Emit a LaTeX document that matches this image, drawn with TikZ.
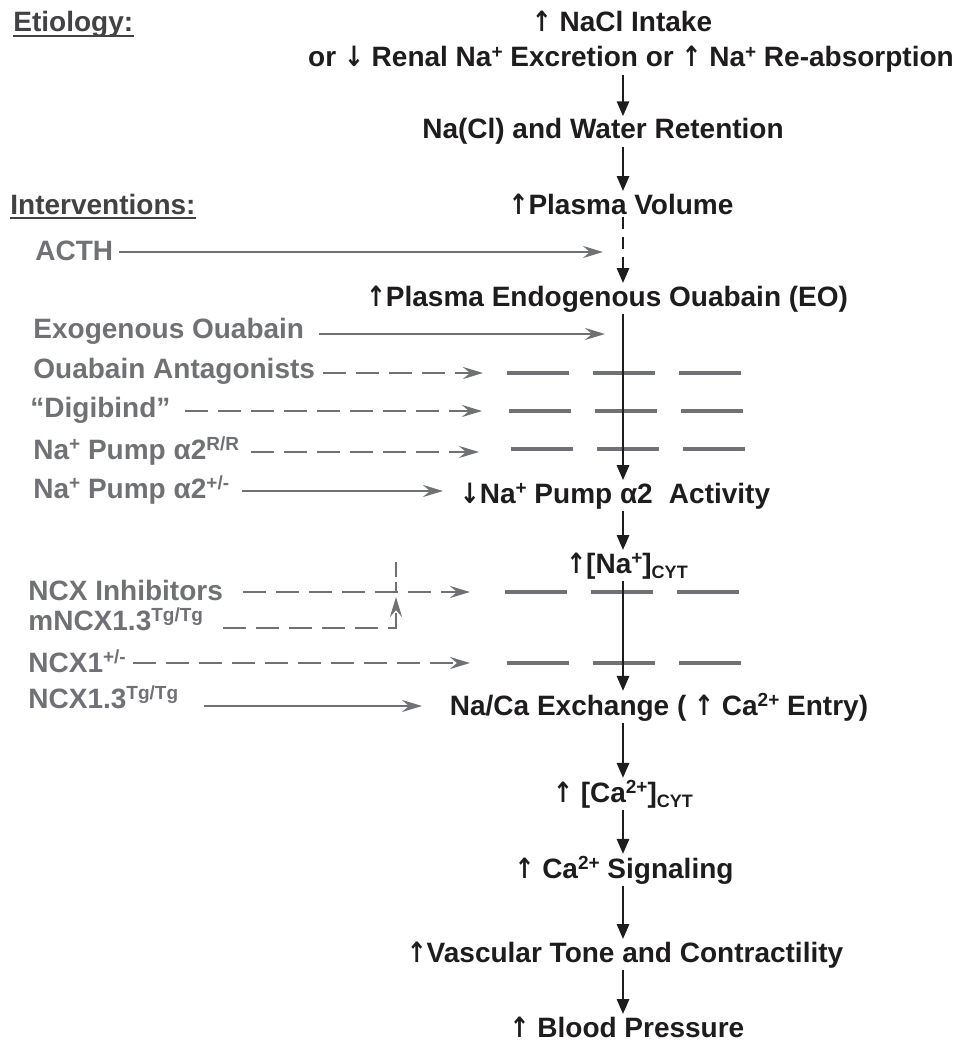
\documentclass[tikz,border=0pt]{standalone}
\usepackage{fontspec}
\setmainfont{Liberation Sans}
\newfontfamily\arrowfont{DejaVu Sans}
\usetikzlibrary{arrows.meta}
\definecolor{ivgray}{RGB}{112,113,117}
\definecolor{hdgray}{RGB}{66,66,69}
\definecolor{ink}{RGB}{30,28,29}
\newcommand{\upar}{\scalebox{0.85}[1]{\arrowfont\bfseries ↑}}
\newcommand{\dnar}{\scalebox{0.85}[1]{\arrowfont\bfseries ↓}}
\newcommand{\sups}[1]{\raisebox{0.3em}{\fontsize{9.5}{9.5}\selectfont #1}}
\newcommand{\subs}[1]{\raisebox{-0.2em}{\fontsize{9}{9}\selectfont #1}}
\tikzset{
  txt/.style={font=\fontsize{14}{17}\selectfont\bfseries, anchor=base},
  effect/.style={txt, text=ink, inner sep=1pt},
  ivlabel/.style={txt, anchor=base west, text=ivgray, inner sep=0pt},
  head/.style={txt, anchor=base west, text=hdgray, inner sep=0pt},
  arr/.style={draw=ink, line width=1.4pt, -{Triangle[length=7.5pt,width=6pt]}},
  garr/.style={draw=ivgray, line width=1.3pt, -{Stealth[length=10pt,width=6pt,inset=3.5pt]}},
  gdash/.style={dash pattern=on 11.5pt off 5pt},
  block/.style={draw=ivgray, line width=2pt, dash pattern=on 31pt off 12pt},
}
\begin{document}
\begin{tikzpicture}[x=0.5pt,y=-0.5pt]
  \useasboundingbox (0,0) rectangle (975,1043);
  \coordinate (spine) at (623,0);

  % causal chain
  \node[effect] (intake) at (622,32) {\upar\ NaCl Intake};
  \node[effect] (cause) at (631,67) {or \dnar\ Renal Na\sups{+} Excretion or \upar\ Na\sups{+} Re-absorption};
  \node[effect] (retention) at (603,139) {Na(Cl) and Water Retention};
  \node[effect] (volume) at (621,214) {\upar Plasma Volume};
  \node[effect] (eo) at (607,306) {\upar Plasma Endogenous Ouabain (EO)};
  \node[effect] (pump) at (615,503) {\dnar Na\sups{+} Pump α2\hspace{0.3em} Activity};
  \node[effect] (nacyt) at (627,573) {\upar[Na\sups{+}]\subs{CYT}};
  \node[effect] (ncx) at (659,715) {Na/Ca Exchange ( \upar\ Ca\sups{2+} Entry)};
  \node[effect] (cacyt) at (623,802) {\upar\ [Ca\sups{2+}]\subs{CYT}};
  \node[effect] (signal) at (624,878) {\upar\ Ca\sups{2+} Signaling};
  \node[effect] (tone) at (625,962) {\upar Vascular Tone and Contractility};
  \node[effect] (bp) at (627,1037) {\upar\ Blood Pressure};

  % headings
  \node[head] (etiology) at (13,32) {Etiology:};
  \node[head] (interv) at (10,215) {Interventions:};
  \draw[hdgray, line width=1pt] ([yshift=-2pt]etiology.base west) -- ([yshift=-2pt]etiology.base east);
  \draw[hdgray, line width=1pt] ([yshift=-1.5pt]interv.base west) -- ([yshift=-1.5pt]interv.base east);

  % interventions
  \node[ivlabel] (acth) at (35,261) {ACTH};
  \node[ivlabel] (exo) at (33,338) {Exogenous Ouabain};
  \node[ivlabel] (antag) at (33,378) {Ouabain Antagonists};
  \node[ivlabel] (digi) at (30,417) {“Digibind”};
  \node[ivlabel] (rr) at (33,459) {Na\sups{+} Pump α2\sups{R/R}};
  \node[ivlabel] (het) at (33,498) {Na\sups{+} Pump α2\sups{+/-}};
  \node[ivlabel] (ncxinh) at (28,600) {NCX Inhibitors};
  \node[ivlabel] (mncx) at (28,630) {mNCX1.3\sups{Tg/Tg}};
  \node[ivlabel] (ncxhet) at (28,672) {NCX1\sups{+/-}};
  \node[ivlabel] (ncxtg) at (28,708) {NCX1.3\sups{Tg/Tg}};

  \coordinate (acth-tip) at (603,252);
  \coordinate (exo-tip) at (605,334);
  \coordinate (antag-tip) at (483,373);
  \coordinate (digi-tip) at (482,411);
  \coordinate (rr-tip) at (479,452);
  \coordinate (het-tip) at (443,491);
  \coordinate (ncxinh-tip) at (470,592);
  \coordinate (ncxhet-tip) at (470,663);
  \coordinate (ncxtg-tip) at (422,706);
  \coordinate (mncx-turn) at (396,628);
  \coordinate (mncx-tip) at (396,597);
  \coordinate (mncx-top) at (396,562);

  % blocked steps
  \foreach \y/\x in {373/507, 411/509, 449/511, 592/505, 663/507}
    \draw[block] (\x,\y) -- ++(235,0);

  \foreach \n/\gap/\sty in {acth/2.5/solid, exo/7/solid, antag/4/gdash, digi/7/gdash,
      rr/5.5/gdash, het/6/solid, ncxinh/10/gdash, ncxhet/3.5/gdash, ncxtg/12.5/solid}
    \draw[garr, \sty, shorten <=\gap pt] (\n.east |- \n-tip) -- (\n-tip);
  \draw[garr, gdash, shorten <=10pt] (mncx.east |- mncx-turn) -- (mncx-turn) -- (mncx-tip);
  \draw[ivgray, line width=1.3pt, dash pattern=on 7.5pt off 2.5pt] (mncx-top) -- (mncx-top |- ncxinh-tip);

  % main arrows
  \foreach \a/\b in {cause/retention, retention/volume, eo/pump, pump/nacyt,
      nacyt/ncx, ncx/cacyt, cacyt/signal, signal/tone, tone/bp}
    \draw[arr] (\a.south -| spine) -- (\b.north -| spine);
  \draw[arr, dash pattern=on 6pt off 4pt] (volume.south -| spine) -- (eo.north -| spine);
\end{tikzpicture}
\end{document}
